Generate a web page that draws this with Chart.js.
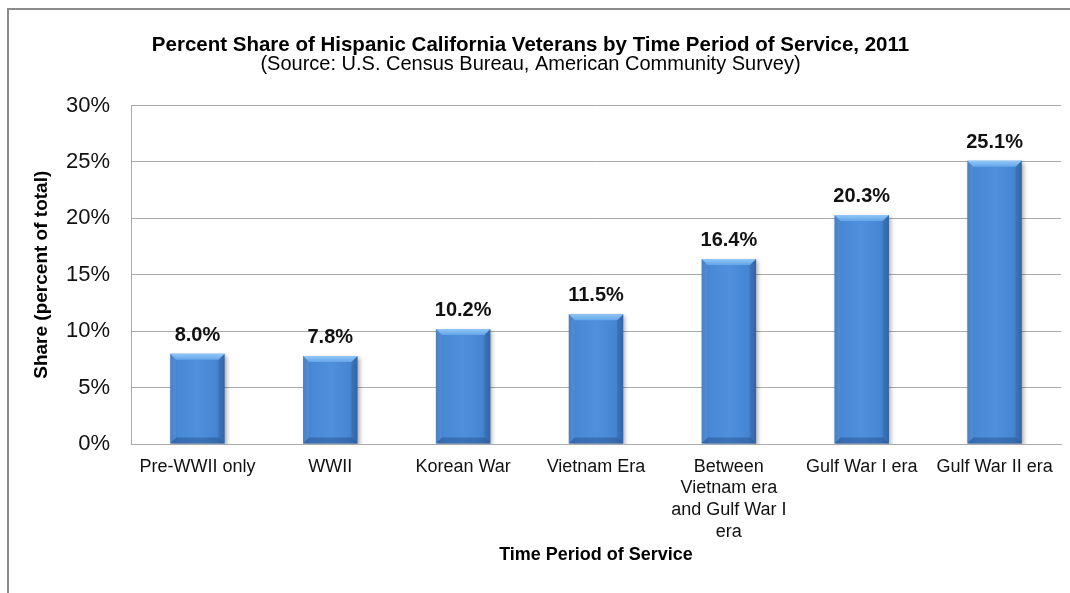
<!DOCTYPE html>
<html>
<head>
<meta charset="utf-8">
<script src="https://cdn.jsdelivr.net/npm/chart.js@4/dist/chart.umd.min.js"></script>
<style>
  html, body { margin: 0; padding: 0; background: #fff; }
  body { width: 1070px; height: 593px; position: relative; overflow: hidden; }
  #moldura { position: absolute; left: 7px; top: 8px; width: 1100px; height: 620px;
             border: 2px solid #8c8c8c; box-sizing: border-box; }
  #wrap { position: absolute; left: 0; top: 0; width: 1070px; height: 593px; }
</style>
</head>
<body>
<div id="moldura"></div>
<div id="wrap"><canvas id="grafico" width="1070" height="593"></canvas></div>
<script>
const categorias = [
  "Pre-WWII only",
  "WWII",
  "Korean War",
  "Vietnam Era",
  ["Between", "Vietnam era", "and Gulf War I", "era"],
  "Gulf War I era",
  "Gulf War II era"
];
const percentuais = [8.0, 7.8, 10.2, 11.5, 16.4, 20.3, 25.1];
const ticksY = [0, 5, 10, 15, 20, 25, 30];

const cinzaGrade = "#a9a9a9";
const fonte = "'Liberation Sans', Arial, sans-serif";

// barras com efeito de bisel, parecido com o Excel
const biselPlugin = {
  id: "bisel",
  beforeDatasetsDraw(chart) {
    const ctx = chart.ctx;
    chart.getDatasetMeta(0).data.forEach(bar => {
      const x0 = bar.x - bar.width / 2, x1 = bar.x + bar.width / 2;
      const g = ctx.createLinearGradient(x0, 0, x1, 0);
      g.addColorStop(0, "#3c74bc");
      g.addColorStop(0.15, "#4888d4");
      g.addColorStop(0.5, "#4f90dc");
      g.addColorStop(0.85, "#4685d1");
      g.addColorStop(1, "#386bb0");
      // as opcoes sao compartilhadas entre as barras, entao copia
      bar.options = Object.assign({}, bar.options, { backgroundColor: g });
    });
    ctx.save();
    ctx.shadowColor = "rgba(0,0,0,0.3)";
    ctx.shadowBlur = 4;
    ctx.shadowOffsetX = 2;
    ctx.shadowOffsetY = 2;
  },
  afterDatasetsDraw(chart) {
    const ctx = chart.ctx;
    ctx.restore();
    ctx.save();
    chart.getDatasetMeta(0).data.forEach((bar, i) => {
      const x0 = bar.x - bar.width / 2, x1 = bar.x + bar.width / 2;
      const topo = bar.y, base = bar.base;
      const b = 6;
      // topo claro
      const gt = ctx.createLinearGradient(0, topo, 0, topo + b);
      gt.addColorStop(0, "#92c8f6");
      gt.addColorStop(1, "#64a5ea");
      ctx.fillStyle = gt;
      ctx.beginPath();
      ctx.moveTo(x0, topo); ctx.lineTo(x1, topo);
      ctx.lineTo(x1 - b, topo + b); ctx.lineTo(x0 + b, topo + b);
      ctx.closePath(); ctx.fill();
      // base escura
      ctx.fillStyle = "rgba(25,60,115,0.35)";
      ctx.beginPath();
      ctx.moveTo(x0, base); ctx.lineTo(x1, base);
      ctx.lineTo(x1 - b, base - b); ctx.lineTo(x0 + b, base - b);
      ctx.closePath(); ctx.fill();
      // lados
      ctx.fillStyle = "rgba(30,70,130,0.18)";
      ctx.beginPath();
      ctx.moveTo(x1, topo); ctx.lineTo(x1, base);
      ctx.lineTo(x1 - b, base - b); ctx.lineTo(x1 - b, topo + b);
      ctx.closePath(); ctx.fill();
      ctx.fillStyle = "rgba(140,190,240,0.18)";
      ctx.beginPath();
      ctx.moveTo(x0, topo); ctx.lineTo(x0, base);
      ctx.lineTo(x0 + b, base - b); ctx.lineTo(x0 + b, topo + b);
      ctx.closePath(); ctx.fill();

      // rotulo do valor
      ctx.fillStyle = "#111";
      ctx.font = "bold 20px " + fonte;
      ctx.textAlign = "center";
      ctx.textBaseline = "alphabetic";
      ctx.fillText(percentuais[i].toFixed(1) + "%", bar.x, topo - 13);
    });
    ctx.restore();
  }
};

const ctx = document.getElementById("grafico").getContext("2d");
const chart = new Chart(ctx, {
  type: "bar",
  data: {
    labels: categorias,
    datasets: [{
      data: percentuais,
      backgroundColor: "#4a89d5",
      borderWidth: 0,
      barPercentage: 0.41,
      categoryPercentage: 1.0
    }]
  },
  options: {
    responsive: false,
    animation: false,
    layout: { padding: { left: 0, right: 9, top: 0, bottom: 27 } },
    plugins: {
      legend: { display: false },
      tooltip: { enabled: false },
      title: {
        display: true,
        text: "Percent Share of Hispanic California Veterans by Time Period of Service, 2011",
        color: "#000",
        font: { family: fonte, size: 20.5, weight: "bold", lineHeight: 1.0 },
        padding: { top: 35, bottom: 0 }
      },
      subtitle: {
        display: true,
        text: "(Source: U.S. Census Bureau, American Community Survey)",
        color: "#000",
        font: { family: fonte, size: 20, lineHeight: 0.9 },
        padding: { top: 0, bottom: 32 }
      }
    },
    scales: {
      x: {
        afterFit: scale => { scale.height = 122; },
        grid: { display: false },
        border: { display: true, color: cinzaGrade, width: 1 },
        ticks: {
          color: "#111",
          font: { family: fonte, size: 18, lineHeight: 1.2 },
          padding: 4,
          maxRotation: 0,
          autoSkip: false
        },
        title: {
          display: true,
          text: "Time Period of Service",
          color: "#000",
          font: { family: fonte, size: 18, weight: "bold", lineHeight: 1.2 },
          padding: { top: 2, bottom: 0 }
        }
      },
      y: {
        min: 0,
        max: 30,
        afterBuildTicks: scale => { scale.ticks = ticksY.map(v => ({ value: v })); },
        afterFit: scale => { scale.width = 131; },
        grid: { color: cinzaGrade, lineWidth: 1, drawTicks: false },
        border: { display: true, color: cinzaGrade, width: 1 },
        ticks: {
          color: "#111",
          font: { family: fonte, size: 22 },
          padding: 21,
          callback: v => v + "%"
        },
        title: {
          display: true,
          text: "Share (percent of total)",
          color: "#000",
          font: { family: fonte, size: 19, weight: "bold", lineHeight: 1.2 },
          padding: { top: 30, bottom: 0 }
        }
      }
    }
  },
  plugins: [biselPlugin]
});
</script>
</body>
</html>
